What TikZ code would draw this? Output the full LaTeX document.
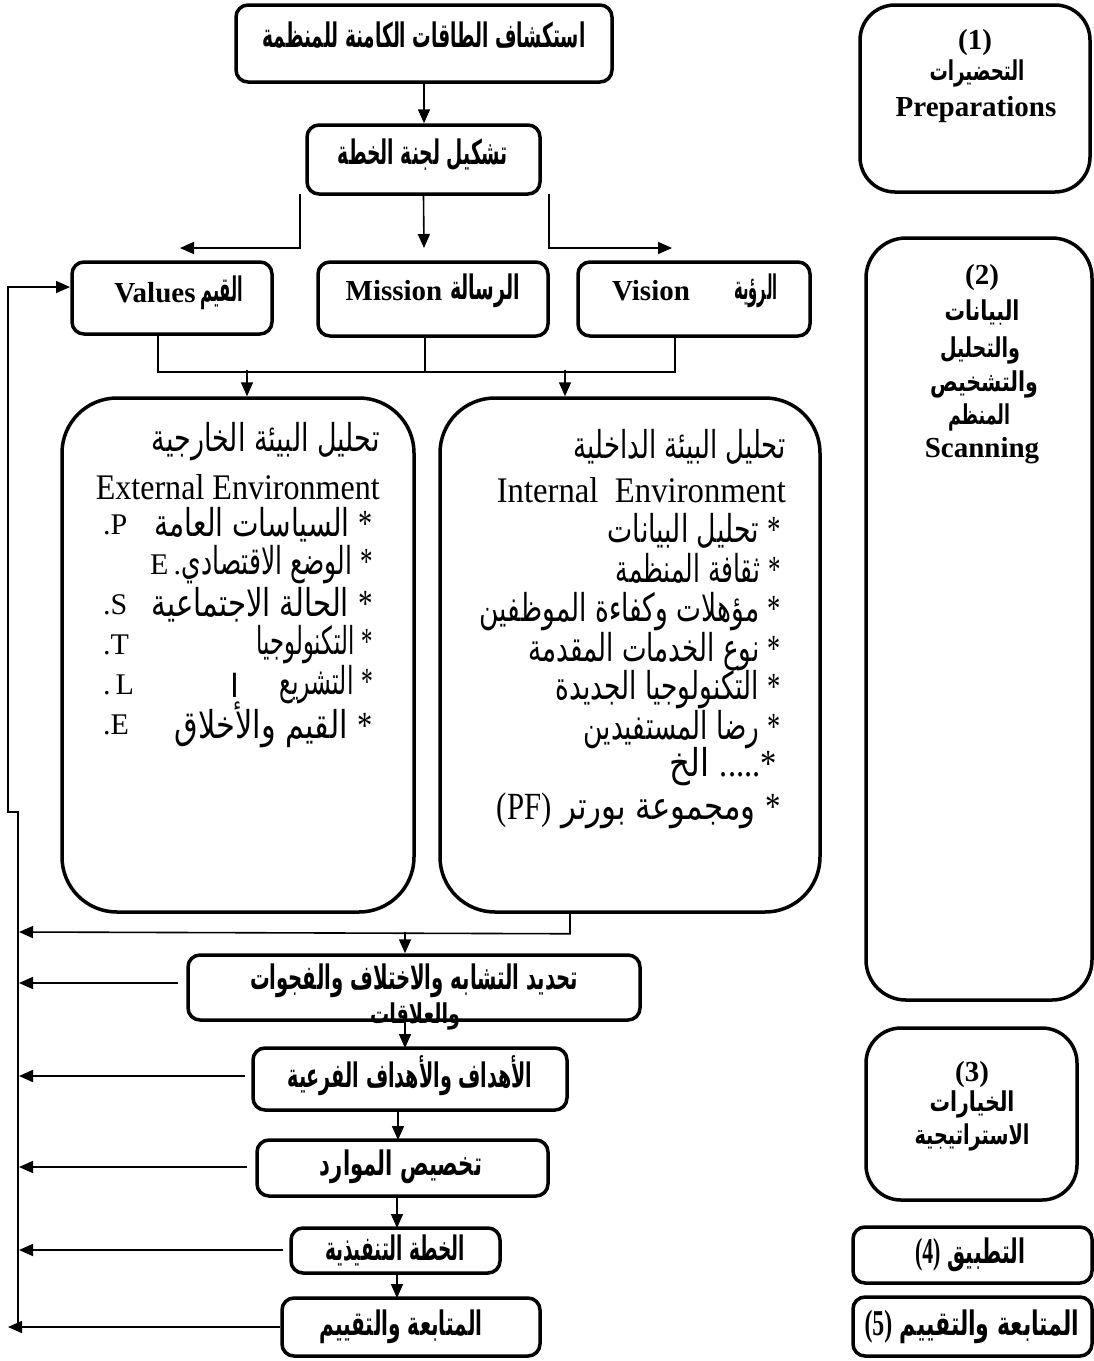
\documentclass[tikz,border=0pt]{standalone}
\usepackage{fontspec}
\usepackage{graphicx}
\setmainfont{Liberation Serif}
\newfontfamily\ar[Script=Arabic]{DejaVu Sans}
\TeXXeTstate=1
\usetikzlibrary{arrows.meta}
\newcommand\AR[1]{{\ar\beginR #1\endR}}
\newcommand\fitw[2]{\resizebox{#1pt}{1.2\height}{#2}}
\newcommand\fitb[2]{\resizebox{#1pt}{1.3\height}{#2}}
\newcommand\fitr[2]{\resizebox{#1pt}{1.05\height}{#2}}
\newcommand\stx{{\rmfamily *}}
\newcommand\nbr[1]{{\rmfamily\bfseries\fontsize{28}{32}\selectfont #1}}
\begin{document}
\begin{tikzpicture}[x=1pt,y=-1pt,
 box/.style={draw, line width=3.5pt, rounded corners=12pt, inner sep=0pt},
 conn/.style={line width=1.6pt},
 arr/.style={conn, -{Triangle[length=14pt,width=12pt]}},
 hb/.style={inner sep=0pt, font=\fontsize{26}{30}\selectfont\bfseries},
 lb/.style={inner sep=0pt, font=\fontsize{29}{33}\selectfont\bfseries},
 arl/.style={inner sep=0pt, font=\fontsize{32}{36}\selectfont, anchor=east},
 lt/.style={inner sep=0pt, font=\fontsize{30}{34}\selectfont},
 ltw/.style={inner sep=0pt, font=\fontsize{30}{34}\selectfont, anchor=west}]
\fill[white] (0,0) rectangle (1094,1361);
\useasboundingbox (0,0) rectangle (1094,1361);

% ---------- main column boxes ----------
\node[box, minimum width=376pt, minimum height=77pt] (b1) at (424,43.5) {};
\node[box, minimum width=233pt, minimum height=69pt] (b2) at (423.5,159.5) {};
\node[box, minimum width=200pt, minimum height=72pt] (val) at (172,298) {};
\node[box, minimum width=230pt, minimum height=74pt] (mis) at (433,299) {};
\node[box, minimum width=232pt, minimum height=74pt] (vis) at (694,299) {};
\node[box, rounded corners=55pt, minimum width=352pt, minimum height=514pt] (ext) at (238,655) {};
\node[box, rounded corners=55pt, minimum width=380pt, minimum height=514pt] (int) at (630,655) {};
\node[box, minimum width=452pt, minimum height=65pt] (b3) at (414,987.5) {};
\node[box, minimum width=314pt, minimum height=62pt] (b4) at (410,1079) {};
\node[box, minimum width=291pt, minimum height=56pt] (b5) at (402.5,1168) {};
\node[box, minimum width=209pt, minimum height=45pt] (b6) at (395.5,1250.5) {};
\node[box, minimum width=258pt, minimum height=58pt] (b7) at (411,1327) {};

% ---------- right column boxes ----------
\node[box, rounded corners=35pt, minimum width=230pt, minimum height=187pt] (r1) at (975,98.5) {};
\node[box, rounded corners=40pt, minimum width=226pt, minimum height=762pt] (r2) at (979,619) {};
\node[box, rounded corners=35pt, minimum width=211pt, minimum height=172pt] (r3) at (971.5,1114) {};
\node[box, minimum width=239pt, minimum height=56pt] (r4) at (972.5,1255) {};
\node[box, minimum width=239pt, minimum height=59pt] (r5) at (972.5,1326.5) {};

% ---------- texts: main column ----------
\node[hb] (t1) at (424,35) {\fitb{323}{\AR{استكشاف الطاقات الكامنة للمنظمة}}};
\node[hb] (t2) at (423,155) {\fitb{170}{\AR{تشكيل لجنة الخطة}}};
\node[lb] (t3a) at (155,293) {Values};
\node[hb] (t3b) at (222,293) {\fitb{43}{\AR{القيم}}};
\node[lb] (t4a) at (394,291) {Mission};
\node[hb] (t4b) at (485,291) {\fitb{70}{\AR{الرسالة}}};
\node[lb] (t5a) at (651,291) {Vision};
\node[hb] (t5b) at (756,291) {\fitb{43}{\AR{الرؤية}}};
\node[hb] (t6) at (414,981) {\fitb{328}{\AR{تحديد التشابه والاختلاف والفجوات}}};
\node[hb] (t6b) at (415,1016) {\fitr{90}{\AR{والعلاقات}}};
\node[hb] (t7) at (410,1076) {\fitb{245}{\AR{الأهداف والأهداف الفرعية}}};
\node[hb] (t8) at (401,1167) {\fitb{162}{\AR{تخصيص الموارد}}};
\node[hb] (t9) at (395,1250) {\fitb{140}{\AR{الخطة التنفيذية}}};
\node[hb] (t10) at (401,1327) {\fitb{163}{\AR{المتابعة والتقييم}}};

% ---------- texts: right column ----------
\node[lb] (s1a) at (975,43) {(1)};
\node[hb] (s1b) at (977,73) {\fitr{95}{\AR{التحضيرات}}};
\node[lb] (s1c) at (976,110) {Preparations};
\node[lb] (s2a) at (982,278) {(2)};
\node[hb] (s2b) at (982,312) {\fitr{75}{\AR{البيانات}}};
\node[hb] (s2c) at (980,350) {\fitr{80}{\AR{والتحليل}}};
\node[hb] (s2d) at (984,384) {\fitr{108}{\AR{والتشخيص}}};
\node[hb] (s2e) at (979,417) {\fitr{62}{\AR{المنظم}}};
\node[lb] (s2f) at (982,451) {Scanning};
\node[lb] (s3a) at (972,1075) {(3)};
\node[hb] (s3b) at (972,1104) {\fitr{85}{\AR{الخيارات}}};
\node[hb] (s3c) at (972,1137) {\fitr{115}{\AR{الاستراتيجية}}};
\node[hb] (s4) at (970,1255) {\fitb{110}{\AR{التطبيق \nbr{(4)}}}};
\node[hb] (s5) at (972,1327) {\fitb{215}{\AR{المتابعة والتقييم \nbr{(5)}}}};

% ---------- external environment ----------
\node[arl] (e0) at (380,442) {\fitw{228}{\AR{تحليل البيئة الخارجية}}};
\node[lt, anchor=east] (e0b) at (380,487) {\fitw{284}{External Environment}};
\node[arl] (e1) at (373,525) {\fitw{218}{\AR{\stx\ السياسات العامة}}};
\node[ltw] (e1b) at (103,525) {.P};
\node[arl] (e2) at (373,565) {\fitw{191}{\AR{\stx\ الوضع الاقتصادي}}};
\node[ltw] (e2b) at (150,565) {E\,.};
\node[arl] (e3) at (373,605) {\fitw{221}{\AR{\stx\ الحالة الاجتماعية}}};
\node[ltw] (e3b) at (103,605) {.S};
\node[arl] (e4) at (373,645) {\fitw{116}{\AR{\stx\ التكنولوجيا}}};
\node[ltw] (e4b) at (103,645) {.T};
\node[arl] (e5) at (373,685) {\fitw{93}{\AR{\stx\ التشريع}}};
\node[arl] (e5c) at (240,685) {\AR{ا}};
\node[ltw] (e5b) at (103,685) {.\,L};
\node[arl] (e6) at (373,725) {\fitw{198}{\AR{\stx\ القيم والأخلاق}}};
\node[ltw] (e6b) at (103,725) {.E};

% ---------- internal environment ----------
\node[arl] (i0) at (786,447) {\fitw{212}{\AR{تحليل البيئة الداخلية}}};
\node[lt, anchor=east] (i0b) at (786,490) {\fitw{289}{Internal\ \ Environment}};
\node[arl] (i1) at (781,531) {\fitw{173}{\AR{\stx\ تحليل البيانات}}};
\node[arl] (i2) at (781,568) {\fitw{165}{\AR{\stx\ ثقافة المنظمة}}};
\node[arl] (i3) at (781,612) {\fitw{301}{\AR{\stx\ مؤهلات وكفاءة الموظفين}}};
\node[arl] (i4) at (781,652) {\fitw{252}{\AR{\stx\ نوع الخدمات المقدمة}}};
\node[arl] (i5) at (781,690) {\fitw{225}{\AR{\stx\ التكنولوجيا الجديدة}}};
\node[arl] (i6) at (781,730) {\fitw{197}{\AR{\stx\ رضا المستفيدين}}};
\node[arl] (i7) at (777,767) {\fitw{107}{\AR{{\rmfamily .....*} الخ}}};
\node[arl] (i8) at (781,811) {\fitw{284}{\AR{\stx\ ومجموعة بورتر {\rmfamily (PF)}}}};

% ---------- connectors ----------
\draw[arr] (b1.south) -- (b1.south |- b2.north);
\coordinate (bl0) at (300,194); \coordinate (bl1) at (180,248);
\coordinate (bm1) at (424,248);
\coordinate (br0) at (549,194); \coordinate (br1) at (672,248);
\draw[arr] (bl0) |- (bl1);
\draw[arr] (b2.south) -- (bm1);
\draw[arr] (br0) |- (br1);

\draw[conn] ([xshift=-14pt]val.south) -- ++(0,36) -| ([xshift=-19pt]vis.south);
\draw[conn] ([xshift=-8pt]mis.south) -- ++(0,34);
\draw[arr] (247,370) -- ([xshift=9pt]ext.north);
\draw[arr] (565,370) -- ([xshift=-65pt]int.north);

\coordinate (fb1) at (19,932);
\draw[arr] ([xshift=-60pt]int.south) -- ++(0,20) -- (fb1);
\draw[arr] (405,932) -- ([xshift=-9pt]b3.north);
\draw[arr] ([xshift=-9pt]b3.south) -- (405,1048);
\draw[arr] (398,1110) -- (398,1140);
\draw[arr] (397,1196) -- (397,1228);
\draw[arr] (397,1273) -- (397,1298);

\draw[arr] (178,983) -- (19,983);
\draw[arr] (245,1076) -- (19,1076);
\draw[arr] (247,1167) -- (19,1167);
\draw[arr] (283,1250) -- (19,1250);
\draw[arr] (b7.west) -- (8,1327);
\draw[arr] (18,1327) -- (18,812) -- (8,812) -- (8,287) -- (70,287);
\end{tikzpicture}
\end{document}
